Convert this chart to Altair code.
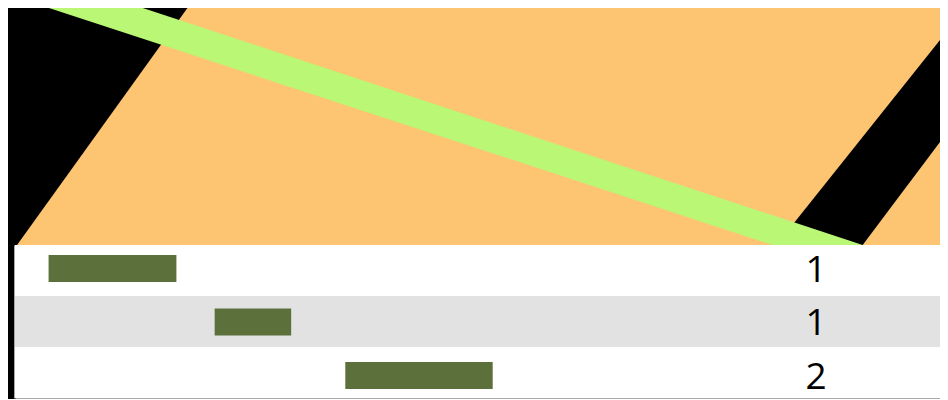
import altair as alt
import pandas as pd

# ---- Top panel: skewed bands (x: 0-100 across panel, y: 0 = bottom, 100 = top)
band_y = [0, 100]
orange_a_from = [1.8, 20.0]
orange_a_to = [81.9, 102.1]
orange_b_from = [91.0, 110.0]
orange_b_to = [120.0, 130.0]
green_from = [81.5, 4.2]
green_to = [91.0, 14.1]

# ---- Bottom panel: timeline rows
rows = ["Row 1", "Row 2", "Row 3"]
starts = [3.6, 21.4, 35.4]
ends = [17.3, 29.6, 51.2]
counts = [1, 1, 2]

W, H = 932, 391
BORDER = "#a8a8a8"

top_x = alt.Scale(domain=[0, 100], range=[-8, 940], nice=False, zero=False)
top_y = alt.Scale(domain=[0, 100], range=[237, -3], nice=False, zero=False)


def skew_band(fr, to, color):
    df = pd.DataFrame({"y": band_y, "lo": fr, "hi": to})
    return alt.Chart(df).mark_area(orient="horizontal", color=color).encode(
        y=alt.Y("y:Q", scale=top_y, axis=None),
        x=alt.X("lo:Q", scale=top_x, axis=None, stack=None),
        x2="hi:Q",
    )


orange_a = skew_band(orange_a_from, orange_a_to, "#fdc572")
orange_b = skew_band(orange_b_from, orange_b_to, "#fdc572")
green = skew_band(green_from, green_to, "#b9f775")

gantt = pd.DataFrame({"row": rows, "start": starts, "end": ends, "count": counts})

gantt_x = alt.Scale(domain=[0, 100], range=[7, 940], nice=False, zero=False)
row_scale = alt.Scale(domain=rows, range=[237, 390], paddingInner=0, paddingOuter=0)
bar_scale = alt.Scale(domain=rows, range=[233.75, 394.25],
                      paddingInner=0.4953, paddingOuter=0.2477)

bg = alt.Chart(gantt).mark_rect().encode(
    y=alt.Y("row:N", scale=row_scale,
            axis=alt.Axis(orient="left", offset=-6, labels=False, ticks=False,
                          title=None, grid=False, domainColor=BORDER)),
    x=alt.X(datum=0, type="quantitative", scale=gantt_x,
            axis=alt.Axis(orient="bottom", offset=-1, labels=False, ticks=False,
                          title=None, grid=False, domainColor=BORDER)),
    x2=alt.X2(datum=100),
    color=alt.Color("row:N",
                    scale=alt.Scale(domain=rows, range=["#ffffff", "#e2e2e2", "#ffffff"]),
                    legend=None),
)

bars = alt.Chart(gantt).mark_bar(color="#5c703c").encode(
    y=alt.Y("row:N", scale=bar_scale, axis=None),
    x=alt.X("start:Q", scale=gantt_x, axis=None),
    x2="end:Q",
)

labels = alt.Chart(gantt).mark_text(font="Open Sans", fontSize=37, dy=2,
                                    color="#000000").encode(
    y=alt.Y("row:N", scale=bar_scale, axis=None),
    x=alt.value(808),
    text="count:Q",
)

chart = alt.layer(orange_a, orange_b, green, bg, bars, labels).resolve_scale(
    x="independent", y="independent", color="independent"
).properties(
    width=W, height=H,
    autosize=alt.AutoSizeParams(type="none"),
    padding=0,
    background="#000000",
).configure_view(stroke=None)

chart.save("out.html", embed_options={"renderer": "svg", "actions": False})
